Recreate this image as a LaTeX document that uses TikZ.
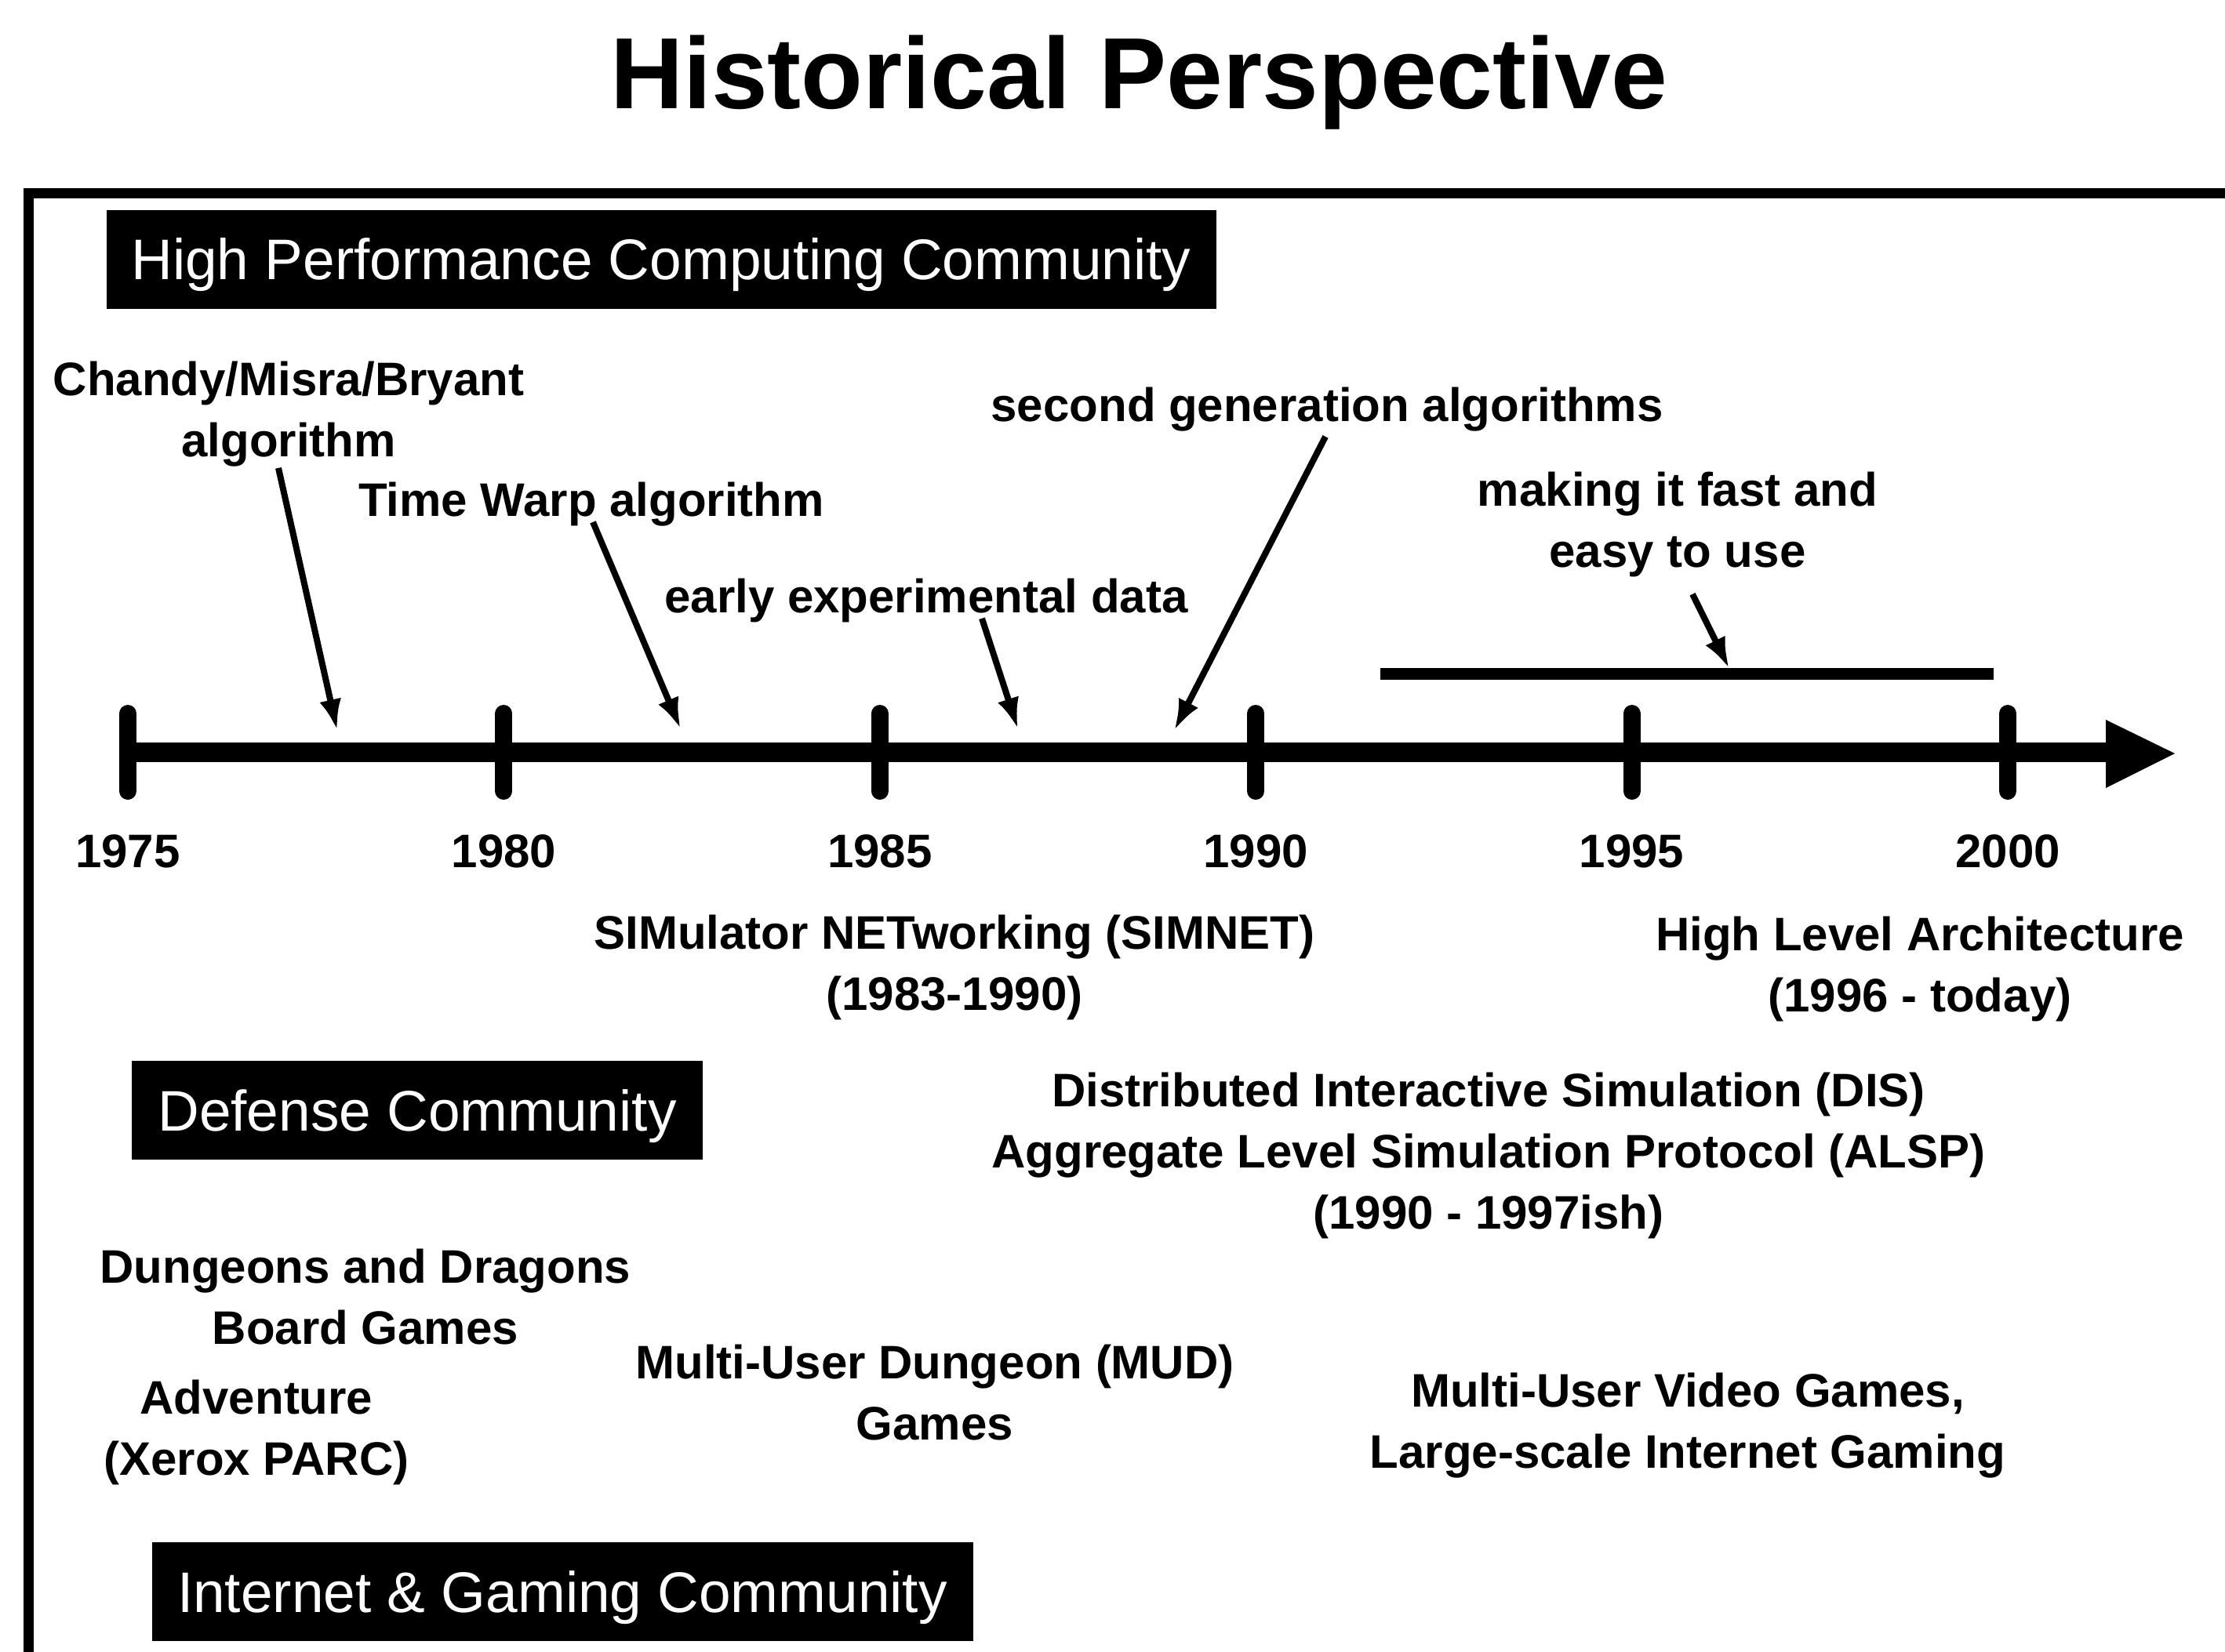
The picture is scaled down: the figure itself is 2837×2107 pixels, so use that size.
\documentclass[tikz,border=0pt]{standalone}
\usepackage{fontspec}
\setmainfont{Liberation Sans}
\usetikzlibrary{arrows.meta,calc}

\begin{document}
\begin{tikzpicture}[x=0.25pt,y=-0.25pt,
  heading/.style={font=\fontsize{32.25pt}{38pt}\selectfont\bfseries, inner sep=0pt},
  lbl/.style={font=\fontsize{15pt}{19.5pt}\selectfont\bfseries, align=center, inner sep=0pt},
  band/.style={fill=black, text=white, font=\fontsize{18.25pt}{22pt}\selectfont,
               inner sep=0pt, minimum height=31.5pt, text height=13.3pt, text depth=0.3pt},
  ptr/.style={line width=2pt, -{Latex[length=10pt,width=7pt]}},
  axisline/.style={line width=6.25pt},
  tickmark/.style={line width=5.5pt, line cap=round},
  frameline/.style={line width=3.25pt},
  spanbar/.style={line width=3.75pt}]

\useasboundingbox (0,0) rectangle (2837,2107);
\fill[white] (0,0) rectangle (2837,2107);

% title
\node[heading, anchor=base] (title) at (1452,139) {Historical Perspective};

% open frame (top and left edges)
\draw[frameline] (36,2107) -- (36,247) -- (2837,247);

% community bands
\node[band, minimum width=353.75pt] (hpc) at (843,331) {High Performance Computing Community};
\node[band, minimum width=182pt] (defense) at (532,1416) {Defense Community};
\node[band, minimum width=261.75pt] (internet) at (717,2030) {Internet \& Gaming Community};

% time axis
\draw[axisline] (163,959) -- (2690,959);
\fill (2685,918) -- (2773,961) -- (2685,1005) -- cycle;
\foreach \yr [count=\i from 0] in {1975,1980,...,2000} {
  \draw[tickmark] ({163+479.4*\i},910) -- ({163+479.4*\i},1009);
  \node[lbl] (y\yr) at ({163+479.4*\i},1086) {\yr};
}

% high performance computing milestones
\node[lbl] (cmb) at (368,528) {Chandy/Misra/Bryant\\algorithm};
\node[lbl] (tw) at (754,643) {Time Warp algorithm};
\node[lbl] (early) at (1181,766) {early experimental data};
\node[lbl] (second) at (1692,522) {second generation algorithms};
\node[lbl] (fast) at (2139,669) {making it fast and\\easy to use};

\coordinate (t1) at (430,932);
\coordinate (t2) at (868,930);
\coordinate (t3) at (1298,930);
\coordinate (t4) at (1497,932);
\coordinate (barL) at (1760,859);
\coordinate (barR) at (2542,859);
\coordinate (t5) at (2205,853);

\draw[spanbar] (barL) -- (barR);

\draw[ptr] ($(cmb.south)+(-13,1)$) -- (t1);
\draw[ptr] ($(tw.south)+(2,-6)$) -- (t2);
\draw[ptr] ($(early.south)+(71,-6)$) -- (t3);
\draw[ptr] ($(second.south)+(-2,6)$) -- (t4);
\draw[ptr] ($(fast.south)+(19,21)$) -- (t5);

% defense milestones
\node[lbl] (simnet) at (1217,1234) {SIMulator NETworking (SIMNET)\\(1983-1990)};
\node[lbl] (hla) at (2448,1236) {High Level Architecture\\(1996 - today)};
\node[lbl] (dis) at (1898,1474) {Distributed Interactive Simulation (DIS)\\Aggregate Level Simulation Protocol (ALSP)\\(1990 - 1997ish)};

% internet and gaming milestones
\node[lbl] (dnd) at (466,1654) {Dungeons and Dragons\\Board Games};
\node[lbl] (adv) at (327,1827) {Adventure\\(Xerox PARC)};
\node[lbl] (mud) at (1192,1776) {Multi-User Dungeon (MUD)\\Games};
\node[lbl] (video) at (2152,1818) {Multi-User Video Games,\\Large-scale Internet Gaming};
\end{tikzpicture}
\end{document}
